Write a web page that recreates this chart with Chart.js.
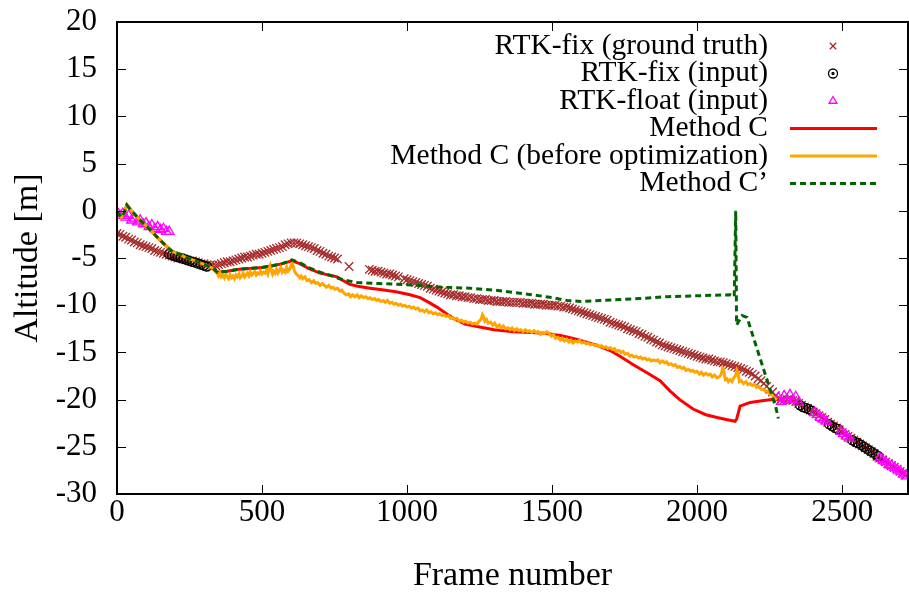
<!DOCTYPE html>
<html><head><meta charset="utf-8">
<script src="https://cdn.jsdelivr.net/npm/chart.js@4/dist/chart.umd.min.js"></script>
<style>html,body{margin:0;padding:0;background:#fff}#wrap{width:909px;height:593px}</style>
</head><body><div id="wrap"><canvas id="c" width="909" height="593"></canvas></div>
<script>
// ---- tick labels ----
const xTicks = [0, 500, 1000, 1500, 2000, 2500];
const yTicks = [20, 15, 10, 5, 0, -5, -10, -15, -20, -25, -30];

// ---- series labels ----
const labels = ['RTK-fix (ground truth)', 'RTK-fix (input)', 'RTK-float (input)',
  'Method C', 'Method C (before optimization)', 'Method C\u2019'];

// ---- series values: [frame, altitude] ----
const groundTruth = [[0,-2.4],[10,-2.5],[20,-2.7],[30,-2.8],[40,-3.0],[50,-3.1],[60,-3.3],[70,-3.4],[80,-3.6],[90,-3.7],[100,-3.8],[110,-3.9],[120,-4.0],[130,-4.2],[140,-4.3],[150,-4.4],[160,-4.5],[170,-4.6],[180,-4.7],[190,-4.8],[200,-4.9],[210,-5.0],[220,-5.0],[230,-5.1],[240,-5.2],[250,-5.3],[260,-5.3],[270,-5.4],[280,-5.5],[290,-5.6],[300,-5.6],[310,-5.7],[320,-5.8],[330,-5.8],[340,-5.8],[350,-5.7],[360,-5.6],[370,-5.5],[380,-5.4],[390,-5.4],[400,-5.3],[410,-5.2],[420,-5.1],[430,-5.0],[440,-4.9],[450,-4.9],[460,-4.8],[470,-4.7],[480,-4.6],[490,-4.6],[500,-4.5],[510,-4.4],[520,-4.3],[530,-4.2],[540,-4.1],[550,-4.0],[560,-3.9],[570,-3.8],[580,-3.6],[590,-3.5],[600,-3.4],[610,-3.4],[620,-3.4],[630,-3.5],[640,-3.6],[650,-3.7],[660,-3.8],[670,-3.9],[680,-4.0],[690,-4.2],[700,-4.3],[710,-4.5],[720,-4.6],[730,-4.8],[740,-4.9],[750,-5.0],[760,-5.1],
[800,-5.9],
[870,-6.2],[880,-6.3],[890,-6.4],[900,-6.4],[910,-6.5],[920,-6.6],[930,-6.7],[940,-6.7],[950,-6.8],[960,-6.9],[970,-7.0],
[990,-7.2],[1000,-7.3],[1010,-7.4],[1020,-7.5],[1030,-7.6],[1040,-7.7],[1050,-7.8],[1060,-7.9],[1070,-8.0],[1080,-8.2],[1090,-8.3],[1100,-8.4],[1110,-8.5],[1120,-8.6],[1130,-8.7],[1140,-8.8],[1150,-8.9],[1160,-8.9],[1170,-9.0],[1180,-9.0],[1190,-9.1],[1200,-9.1],[1210,-9.2],[1220,-9.2],[1230,-9.3],[1240,-9.3],[1250,-9.4],[1260,-9.4],[1270,-9.4],[1280,-9.5],[1290,-9.5],[1300,-9.5],[1310,-9.6],[1320,-9.6],[1330,-9.6],[1340,-9.6],[1350,-9.7],[1360,-9.7],[1370,-9.7],[1380,-9.7],[1390,-9.7],[1400,-9.8],[1410,-9.8],[1420,-9.8],[1430,-9.8],[1440,-9.9],[1450,-9.9],[1460,-9.9],[1470,-9.9],[1480,-10.0],[1490,-10.0],[1500,-10.0],[1510,-10.0],[1520,-10.1],[1530,-10.1],[1540,-10.2],[1550,-10.2],[1560,-10.3],[1570,-10.4],[1580,-10.5],[1590,-10.6],[1600,-10.7],[1610,-10.8],[1620,-10.9],[1630,-11.0],[1640,-11.1],[1650,-11.2],[1660,-11.3],[1670,-11.4],[1680,-11.5],[1690,-11.6],[1700,-11.8],[1710,-11.9],[1720,-12.0],[1730,-12.1],[1740,-12.2],[1750,-12.3],[1760,-12.5],[1770,-12.6],[1780,-12.7],[1790,-12.8],[1800,-13.0],[1810,-13.1],[1820,-13.3],[1830,-13.4],[1840,-13.6],[1850,-13.7],[1860,-13.9],[1870,-14.0],[1880,-14.2],[1890,-14.3],[1900,-14.4],[1910,-14.5],[1920,-14.6],[1930,-14.7],[1940,-14.8],[1950,-14.9],[1960,-15.0],[1970,-15.1],[1980,-15.2],[1990,-15.3],[2000,-15.4],[2010,-15.5],[2020,-15.6],[2030,-15.7],[2040,-15.7],[2050,-15.8],[2060,-15.9],[2070,-16.0],[2080,-16.0],[2090,-16.1],[2100,-16.2],[2110,-16.3],[2120,-16.4],[2130,-16.5],[2140,-16.6],[2150,-16.7],[2160,-16.8],[2170,-17.0],[2180,-17.1],[2190,-17.3],[2200,-17.5],[2210,-17.8],[2220,-18.0],[2230,-18.3],[2240,-18.6],[2250,-18.9],[2260,-19.2],[2270,-19.6],[2280,-19.9],[2290,-20.0],[2300,-20.0],[2310,-20.0],[2320,-20.0],[2330,-20.1],[2340,-20.2],[2350,-20.4],[2360,-20.6],[2370,-20.8],[2380,-20.9],[2390,-21.1],[2400,-21.3],[2410,-21.5],[2420,-21.7],[2430,-21.9],[2440,-22.1],[2450,-22.4],[2460,-22.6],[2470,-22.8],[2480,-23.0],[2490,-23.2],[2500,-23.5],[2510,-23.7],[2520,-23.9],[2530,-24.1],[2540,-24.3],[2550,-24.5],[2560,-24.7],[2570,-24.9],[2580,-25.1],[2590,-25.3],[2600,-25.5],[2610,-25.7],[2620,-26.0],[2630,-26.2],[2640,-26.4],[2650,-26.6],[2660,-26.8],[2670,-27.0],[2680,-27.2],[2690,-27.4],[2700,-27.6],[2710,-27.8],[2720,-28.0]];

const rtkFix = [[180,-4.6],[190,-4.7],[200,-4.8],[210,-4.9],[220,-5.0],[230,-5.1],[240,-5.2],[250,-5.3],[260,-5.4],[270,-5.5],[280,-5.6],[290,-5.7],[300,-5.8],[310,-5.9],
[2355,-20.6],[2365,-20.8],[2375,-20.9],[2385,-21.0],[2395,-21.2],
[2455,-22.6],[2465,-22.8],[2475,-23.0],[2485,-23.1],
[2535,-24.3],[2545,-24.5],[2555,-24.6],[2565,-24.8],[2575,-25.0],[2585,-25.2],[2595,-25.4],[2605,-25.6],[2615,-25.8],[2625,-26.0]];

const rtkFloat = [[0,-0.1],[10,-0.5],[20,-0.3],[30,-0.7],[40,-0.5],[50,-1.0],[60,-0.8],[70,-1.2],[80,-1.0],[90,-1.4],[100,-1.3],[110,-1.7],[120,-1.5],[130,-1.9],[140,-1.7],[150,-2.0],[160,-1.9],[170,-2.2],[180,-2.2],
[2280,-19.8],[2290,-20.2],[2300,-19.6],[2310,-20.0],[2320,-19.5],[2330,-20.0],[2340,-19.7],[2350,-20.3],
[2405,-21.4],[2415,-21.6],[2425,-21.9],[2435,-22.1],[2445,-22.3],
[2495,-23.4],[2505,-23.6],[2515,-23.9],[2525,-24.1],
[2630,-26.2],[2640,-26.4],[2650,-26.6],[2660,-26.9],[2670,-27.0],[2680,-27.2],[2690,-27.4],[2700,-27.6],[2710,-27.9],[2720,-28.1]];

const methodC = [[0,-0.1],[15,-0.7],[25,-0.2],[34,0.6],[50,0.0],[80,-1.0],[114,-2.0],[145,-3.0],[172,-3.8],[190,-4.3],[215,-4.6],[241,-5.0],[270,-5.3],[310,-5.8],[330,-6.1],[345,-6.5],
[380,-6.4],[420,-6.2],[460,-6.1],[500,-6.0],[540,-5.8],[570,-5.6],[603,-5.3],[630,-5.6],[660,-6.1],[700,-6.6],[730,-6.8],[759,-7.0],[780,-7.4],[803,-7.8],[830,-8.0],[872,-8.2],[920,-8.4],[966,-8.6],[1010,-8.9],[1045,-9.2],[1075,-9.7],[1103,-10.2],[1131,-10.8],[1160,-11.4],[1200,-12.0],[1250,-12.3],[1300,-12.6],[1366,-12.8],[1430,-12.9],[1480,-13.0],[1528,-13.2],[1570,-13.5],[1607,-13.8],[1650,-14.2],[1700,-14.8],[1734,-15.4],[1780,-16.3],[1830,-17.2],[1872,-18.0],[1907,-19.1],[1940,-20.0],[1986,-21.0],[2030,-21.6],[2069,-21.9],[2100,-22.1],[2131,-22.3],[2137,-22.0],[2148,-20.7],[2183,-20.3],[2230,-20.1],[2259,-20.0],[2280,-20.0]];

const methodCBefore = [[0,-0.1],[15,-0.7],[25,-0.2],[34,0.6],[50,0.0],[80,-1.0],[114,-2.0],[145,-3.0],[172,-3.8],[190,-4.3],[215,-4.6],[241,-5.0],[270,-5.3],[310,-5.8],[330,-6.1],[345,-6.6],
[350,-6.9],[355,-6.6],[360,-7.0],[365,-6.8],[370,-7.1],[375,-6.7],[380,-7.0],[385,-7.2],[390,-6.8],[395,-7.1],[400,-6.9],[405,-7.2],[410,-6.8],[415,-7.0],[420,-6.7],[425,-7.1],[430,-6.9],[435,-6.6],[440,-7.0],[445,-6.8],[450,-6.6],[455,-6.9],[460,-6.5],[465,-6.8],[470,-6.6],[475,-6.4],[480,-6.8],[485,-6.6],[490,-6.7],[495,-6.4],[500,-6.7],[505,-6.5],[510,-6.6],[515,-6.3],[520,-6.7],[524,-6.2],[528,-5.8],[532,-6.3],[536,-6.7],[540,-6.4],[545,-6.6],[550,-6.2],[555,-6.6],[560,-6.3],[565,-6.0],[570,-6.5],[575,-6.3],[580,-6.5],[585,-6.0],[590,-6.4],[595,-6.2],[600,-5.8],[604,-5.6],[608,-5.9],[612,-6.4],[618,-6.7],[625,-6.9],[630,-7.1],[635,-6.9],[640,-7.2],[648,-7.0],[655,-7.4],[662,-7.3],[670,-7.6],[678,-7.4],[685,-7.7],[692,-7.6],[700,-7.9],[708,-7.7],[715,-7.9],[722,-8.1],[730,-7.9],[738,-8.2],[745,-8.1],[752,-8.3],[760,-8.2],[768,-8.5],[775,-8.4],[782,-8.7],[790,-8.9],[798,-8.8],[805,-9.1],[812,-8.9],[820,-9.1],[828,-8.9],[835,-9.2],[842,-9.0],[850,-9.2],[858,-9.1],[865,-9.3],[872,-9.2],[880,-9.4],[888,-9.3],[895,-9.5],[902,-9.4],[910,-9.6],[918,-9.5],[925,-9.7],[932,-9.5],[940,-9.8],[948,-9.7],[955,-9.9],[962,-9.8],[970,-10.0],[978,-9.9],[985,-10.1],[992,-10.0],[1000,-10.2],[1008,-10.1],[1015,-10.3],[1022,-10.2],[1030,-10.4],[1038,-10.3],[1045,-10.6],[1052,-10.5],[1060,-10.7],[1068,-10.5],[1075,-10.8],[1082,-10.7],[1090,-10.9],[1098,-10.8],[1105,-11.0],[1112,-10.9],[1120,-11.1],[1128,-11.0],[1135,-11.2],[1142,-11.1],[1150,-11.4],[1158,-11.3],[1165,-11.5],[1172,-11.4],[1180,-11.7],[1188,-11.6],[1195,-11.8],[1202,-11.7],[1210,-11.9],[1218,-11.8],[1225,-12.0],[1232,-11.9],[1240,-12.0],[1248,-11.7],[1255,-11.5],[1260,-11.0],[1264,-11.2],[1268,-11.7],[1274,-11.5],[1280,-11.9],[1288,-11.8],[1295,-12.1],[1302,-11.9],[1310,-12.3],[1318,-12.1],[1325,-12.4],[1332,-12.2],[1340,-12.5],[1348,-12.4],[1355,-12.6],[1362,-12.4],[1370,-12.7],[1378,-12.5],[1385,-12.7],[1392,-12.6],[1400,-12.8],[1408,-12.6],[1415,-12.8],[1422,-12.7],[1430,-12.9],[1438,-12.7],[1445,-12.9],[1452,-12.8],[1460,-13.1],[1468,-12.9],[1475,-13.0],[1482,-12.8],[1490,-13.0],[1498,-13.3],[1505,-13.1],[1512,-13.5],[1520,-13.4],[1528,-13.7],[1535,-13.5],[1542,-13.8],[1550,-13.6],[1558,-13.9],[1565,-13.7],[1572,-14.0],[1580,-13.8],[1588,-13.9],[1595,-13.7],[1602,-14.0],[1610,-13.9],[1618,-14.1],[1625,-14.0],[1632,-14.2],[1640,-14.1],[1648,-14.3],[1655,-14.2],[1662,-14.4],[1670,-14.3],[1678,-14.5],[1685,-14.4],[1692,-14.6],[1700,-14.5],[1708,-14.7],[1715,-14.6],[1722,-14.9],[1730,-14.8],[1738,-15.0],[1745,-14.9],[1752,-15.2],[1760,-15.1],[1768,-15.4],[1775,-15.3],[1782,-15.5],[1790,-15.4],[1798,-15.6],[1805,-15.5],[1812,-15.7],[1820,-15.6],[1828,-15.8],[1835,-15.7],[1842,-15.9],[1850,-15.8],[1858,-15.9],[1865,-15.8],[1872,-16.1],[1880,-15.9],[1888,-16.1],[1895,-16.0],[1902,-16.3],[1910,-16.2],[1918,-16.4],[1925,-16.3],[1932,-16.6],[1940,-16.5],[1948,-16.7],[1955,-16.6],[1962,-16.9],[1970,-16.8],[1978,-17.0],[1985,-16.9],[1992,-17.1],[2000,-17.0],[2008,-17.3],[2015,-17.1],[2022,-17.4],[2030,-17.2],[2038,-17.4],[2045,-17.3],[2052,-17.6],[2060,-17.4],[2068,-17.7],[2075,-17.6],[2082,-17.4],[2088,-16.7],[2092,-16.9],[2097,-17.9],[2103,-17.8],[2108,-18.1],[2114,-17.9],[2120,-18.1],[2126,-17.7],[2132,-17.5],[2137,-16.9],[2141,-17.2],[2146,-18.1],[2152,-18.0],[2160,-18.3],[2168,-18.1],[2175,-18.4],[2182,-18.3],[2190,-18.5],[2198,-18.4],[2205,-18.7],[2212,-18.6],[2220,-18.9],[2228,-18.9],[2235,-19.1],[2242,-19.1],[2250,-19.4],[2258,-19.5],[2265,-19.8],[2275,-20.0]];

const methodCPrime = [[0,-0.1],[15,-0.7],[25,-0.2],[34,0.6],[50,0.0],[80,-1.0],[114,-2.0],[145,-3.0],[172,-3.8],[190,-4.3],[215,-4.6],[241,-5.0],[270,-5.3],[310,-5.8],[330,-6.1],[345,-6.5],
[380,-6.4],[420,-6.2],[460,-6.1],[500,-6.0],[540,-5.8],[570,-5.6],[603,-5.2],[630,-5.5],[660,-6.0],[700,-6.5],[740,-6.9],[779,-7.3],[828,-7.6],[900,-7.7],[986,-7.8],[1124,-8.1],[1217,-8.2],[1300,-8.4],[1434,-8.9],[1500,-9.2],[1552,-9.5],[1600,-9.6],[1666,-9.5],[1734,-9.4],[1800,-9.3],[1897,-9.1],[2000,-9.0],[2114,-8.9],[2128,-9.1],[2133,0.0],[2136,-12.1],[2155,-11.1],[2172,-11.3],[2272,-20.9],[2280,-22.0]];

const FONT = '"Liberation Serif", "Times New Roman", serif';
const toXY = arr => arr.map(p => ({x: p[0], y: p[1]}));

const datasets = [
  {label: labels[0], data: toXY(groundTruth), showLine: false, pointStyle: 'crossRot', pointRadius: 6, pointBorderWidth: 1.3, borderColor: '#a52a2a', backgroundColor: '#a52a2a', order: 6},
  {label: labels[1], data: toXY(rtkFix), showLine: false, pointStyle: 'circle', pointRadius: 4.5, pointBorderWidth: 1.3, borderColor: '#000000', backgroundColor: 'rgba(0,0,0,0)', order: 5},
  {label: labels[2], data: toXY(rtkFloat), showLine: false, pointStyle: 'triangle', pointRadius: 5.5, pointBorderWidth: 1.3, borderColor: '#ff00ff', backgroundColor: 'rgba(0,0,0,0)', order: 4},
  {label: labels[3], data: toXY(methodC), showLine: true, pointRadius: 0, borderWidth: 3, borderColor: '#ff0000', order: 3},
  {label: labels[4], data: toXY(methodCBefore), showLine: true, pointRadius: 0, borderWidth: 3, borderColor: '#ffa500', order: 2},
  {label: labels[5], data: toXY(methodCPrime), showLine: true, pointRadius: 0, borderWidth: 3, borderColor: '#006400', borderDash: [6, 4], order: 1}
];

function drawMarker(ctx, style, x, y, r, color, lw) {
  ctx.save();
  ctx.strokeStyle = color; ctx.lineWidth = lw; ctx.setLineDash([]);
  ctx.beginPath();
  if (style === 'crossRot') {
    const d = r * Math.SQRT1_2;
    ctx.moveTo(x - d, y - d); ctx.lineTo(x + d, y + d);
    ctx.moveTo(x + d, y - d); ctx.lineTo(x - d, y + d);
  } else if (style === 'circle') {
    ctx.arc(x, y, r, 0, Math.PI * 2);
    ctx.moveTo(x + 1, y); ctx.arc(x, y, 1, 0, Math.PI * 2);
  } else if (style === 'triangle') {
    ctx.moveTo(x, y - r);
    ctx.lineTo(x + r * 0.866, y + r * 0.5);
    ctx.lineTo(x - r * 0.866, y + r * 0.5);
    ctx.closePath();
  }
  ctx.stroke();
  ctx.restore();
}

const framePlugin = {
  id: 'framePlugin',
  afterDatasetsDraw(chart) {
    const {ctx, chartArea: a, scales} = chart;
    ctx.save();
    ctx.strokeStyle = '#000'; ctx.setLineDash([]);
    ctx.lineWidth = 1;
    const T = 9;
    ctx.beginPath();
    scales.x.ticks.forEach(t => {
      const px = Math.round(scales.x.getPixelForValue(t.value)) + 0.5;
      ctx.moveTo(px, a.bottom); ctx.lineTo(px, a.bottom - T);
      ctx.moveTo(px, a.top); ctx.lineTo(px, a.top + T);
    });
    scales.y.ticks.forEach(t => {
      const py = Math.round(scales.y.getPixelForValue(t.value)) + 0.5;
      ctx.moveTo(a.left, py); ctx.lineTo(a.left + T, py);
      ctx.moveTo(a.right, py); ctx.lineTo(a.right - T, py);
    });
    ctx.stroke();
    ctx.lineWidth = 2;
    ctx.strokeRect(a.left, a.top, a.right - a.left, a.bottom - a.top);
    ctx.restore();
  },
  afterDraw(chart) {
    const ctx = chart.ctx;
    ctx.save();
    ctx.font = '29.5px ' + FONT;
    ctx.fillStyle = '#000';
    ctx.textAlign = 'right';
    ctx.textBaseline = 'middle';
    chart.data.datasets.forEach((ds, i) => {
      const y = 46 + i * 27.5;
      ctx.fillText(ds.label, 768, y);
      if (ds.showLine) {
        ctx.save();
        ctx.strokeStyle = ds.borderColor; ctx.lineWidth = ds.borderWidth;
        ctx.setLineDash(ds.borderDash || []);
        ctx.beginPath(); ctx.moveTo(790, y); ctx.lineTo(877, y); ctx.stroke();
        ctx.restore();
      } else {
        drawMarker(ctx, ds.pointStyle, 833, y, 4.5, ds.borderColor, ds.pointBorderWidth);
      }
    });
    ctx.restore();
  }
};

new Chart(document.getElementById('c'), {
  type: 'scatter',
  data: {datasets},
  options: {
    responsive: false, animation: false, devicePixelRatio: 1,
    layout: {autoPadding: false, padding: {top: 22, right: 1, left: 0, bottom: 0}},
    plugins: {legend: {display: false}, tooltip: {enabled: false}},
    elements: {line: {tension: 0, fill: false}},
    scales: {
      x: {
        type: 'linear', min: 0, max: 2727,
        afterBuildTicks: s => { s.ticks = xTicks.map(v => ({value: v})); },
        afterFit: s => { s.height = 99; s.paddingLeft = 0; s.paddingRight = 0; s.paddingTop = 0; s.paddingBottom = 0; },
        grid: {display: false, drawTicks: false}, border: {display: false},
        ticks: {color: '#000', font: {family: FONT, size: 31}, padding: 0, maxRotation: 0, autoSkip: false, callback: v => String(v)},
        title: {display: true, text: 'Frame number', color: '#000', font: {family: FONT, size: 34, lineHeight: 1.0}, padding: {top: 0, bottom: 0}}
      },
      y: {
        type: 'linear', min: -30, max: 20,
        afterBuildTicks: s => { s.ticks = yTicks.map(v => ({value: v})); },
        afterFit: s => { s.width = 117; s.paddingLeft = 0; s.paddingRight = 0; s.paddingTop = 0; s.paddingBottom = 0; },
        grid: {display: false, drawTicks: false}, border: {display: false},
        ticks: {color: '#000', font: {family: FONT, size: 31}, padding: 20, autoSkip: false, callback: v => String(v)},
        title: {display: true, text: 'Altitude [m]', color: '#000', font: {family: FONT, size: 34, lineHeight: 1.0}, padding: {top: 11, bottom: 0}}
      }
    }
  },
  plugins: [framePlugin]
});
</script>
</body></html>
